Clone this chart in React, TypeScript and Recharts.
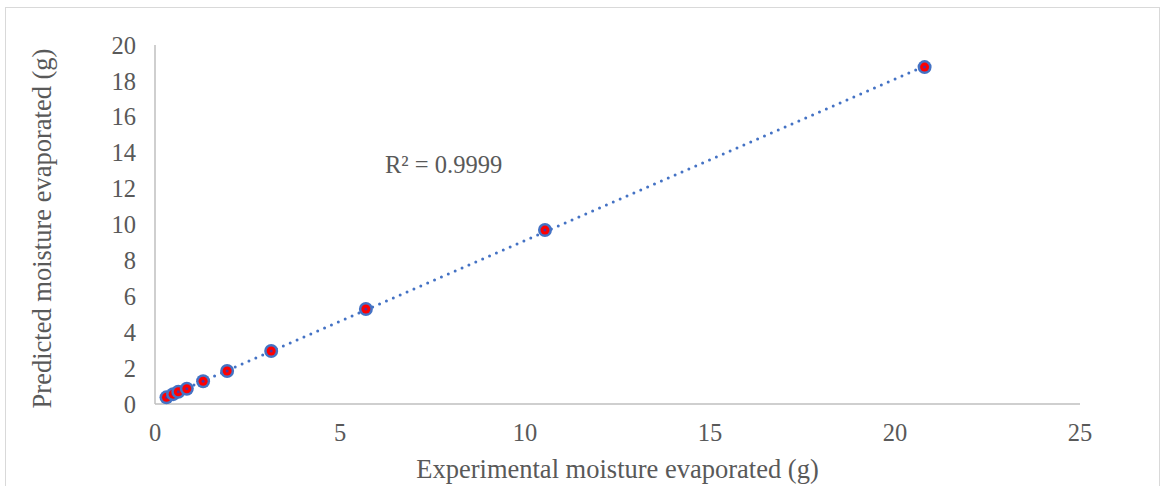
import React from "react";
import {
  ScatterChart,
  Scatter,
  XAxis,
  YAxis,
  ReferenceLine,
  ReferenceDot,
} from "recharts";

const experimental = [0.31, 0.49, 0.63, 0.86, 1.3, 1.95, 3.14, 5.7, 10.54, 20.8];
const predicted = [0.37, 0.55, 0.68, 0.85, 1.27, 1.84, 2.95, 5.29, 9.69, 18.77];
const xTicks = [0, 5, 10, 15, 20, 25];
const yTicks = [0, 2, 4, 6, 8, 10, 12, 14, 16, 18, 20];
const r2Label = "R² = 0.9999";
const xTitle = "Experimental moisture evaporated (g)";
const yTitle = "Predicted moisture evaporated (g)";

const data = experimental.map((x, i) => ({ x, y: predicted[i] }));

// least-squares trendline derived from the data
const n = data.length;
const mx = experimental.reduce((a, b) => a + b, 0) / n;
const my = predicted.reduce((a, b) => a + b, 0) / n;
let sxy = 0;
let sxx = 0;
for (let i = 0; i < n; i++) {
  sxy += (experimental[i] - mx) * (predicted[i] - my);
  sxx += (experimental[i] - mx) ** 2;
}
const slope = sxy / sxx;
const intercept = my - slope * mx;
const xMin = Math.min(...experimental);
const xMax = Math.max(...experimental);

const FONT = '"Liberation Serif", "Times New Roman", "DejaVu Serif", serif';
const TEXT = "#595959";
const BLUE = "#4472C4";

const Marker = (props: any) => {
  const { cx, cy } = props;
  if (cx == null || cy == null) return null;
  return (
    <g>
      <circle cx={cx} cy={cy} r={7} fill={BLUE} />
      <circle cx={cx} cy={cy} r={4.5} fill="#FF0000" />
      <circle cx={cx} cy={cy} r={1.5} fill="#5a2f9a" />
    </g>
  );
};

export default function App() {
  return (
    <div
      style={{
        position: "absolute",
        left: 0,
        top: 0,
        width: 1165,
        height: 486,
        overflow: "hidden",
        background: "#fff",
        fontFamily: FONT,
      }}
    >
      <div
        style={{
          position: "absolute",
          left: 5,
          top: 7,
          width: 1155,
          height: 500,
          border: "1px solid #d9d9d9",
          boxSizing: "border-box",
        }}
      />
      <div style={{ position: "absolute", left: 0, top: 0 }}>
        <ScatterChart
          width={1165}
          height={486}
          margin={{ top: 45, right: 85, bottom: 0, left: 0 }}
          style={{ fontFamily: FONT }}
        >
          <XAxis
            type="number"
            dataKey="x"
            domain={[0, 25]}
            ticks={xTicks}
            height={82}
            axisLine={{ stroke: "#bfbfbf", strokeWidth: 1.5 }}
            tickLine={false}
            tickSize={0}
            tickMargin={20}
            tick={{ fill: TEXT, fontSize: 24.5, style: { fontFamily: FONT } }}
            interval={0}
            label={{
              content: (p: any) => {
                const vb = p.viewBox;
                return (
                  <text
                    x={vb.x + vb.width / 2}
                    y={478}
                    textAnchor="middle"
                    fill={TEXT}
                    fontSize={26.5}
                    style={{ fontFamily: FONT }}
                  >
                    {xTitle}
                  </text>
                );
              },
            }}
          />
          <YAxis
            type="number"
            dataKey="y"
            domain={[0, 20]}
            ticks={yTicks}
            width={155}
            axisLine={{ stroke: "#bfbfbf", strokeWidth: 1.5 }}
            tickLine={false}
            tickSize={0}
            tickMargin={19}
            tick={{ fill: TEXT, fontSize: 24.5, style: { fontFamily: FONT } }}
            interval={0}
            label={{
              content: (p: any) => {
                const vb = p.viewBox;
                const cy = vb.y + vb.height / 2 + 4;
                return (
                  <text
                    x={51}
                    y={cy}
                    transform={`rotate(-90, 51, ${cy})`}
                    textAnchor="middle"
                    fill={TEXT}
                    fontSize={26.5}
                    style={{ fontFamily: FONT }}
                  >
                    {yTitle}
                  </text>
                );
              },
            }}
          />
          <ReferenceLine
            segment={[
              { x: xMin, y: slope * xMin + intercept },
              { x: xMax, y: slope * xMax + intercept },
            ]}
            stroke={BLUE}
            strokeWidth={3}
            strokeDasharray="0 7.5"
            strokeLinecap="round"
            ifOverflow="visible"
          />
          <Scatter
            data={data}
            shape={<Marker />}
            isAnimationActive={false}
          />
          <ReferenceDot
            x={7.8}
            y={13.35}
            r={0}
            ifOverflow="visible"
            label={{
              value: r2Label,
              position: "center",
              fill: TEXT,
              fontSize: 24.5,
              style: { fontFamily: FONT },
            }}
          />
        </ScatterChart>
      </div>
    </div>
  );
}
